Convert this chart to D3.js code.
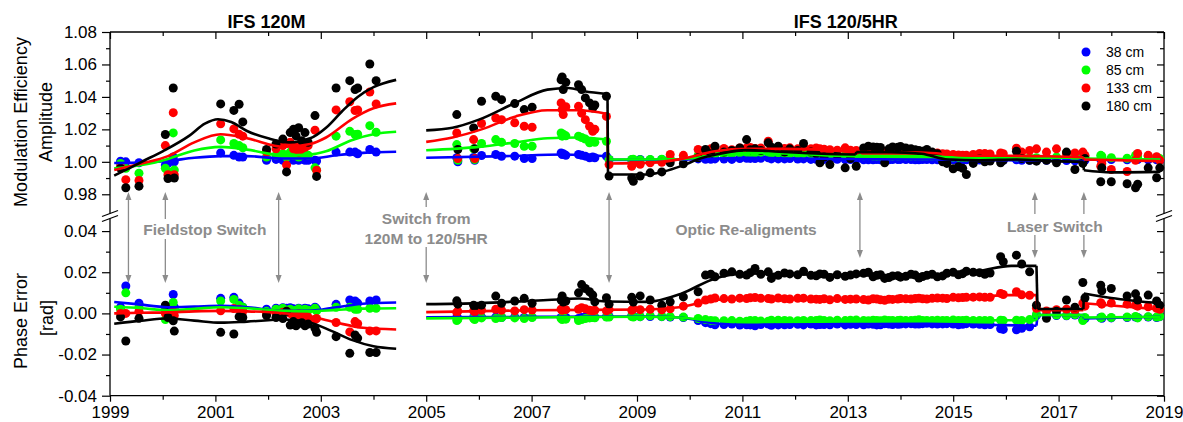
<!DOCTYPE html>
<html>
<head>
<meta charset="utf-8">
<script src="https://cdn.jsdelivr.net/npm/d3@7"></script>
<style>
  body { margin: 0; background: #fff; }
  svg text { font-family: "Liberation Sans", Arial, sans-serif; }
</style>
</head>
<body>
<svg id="chart" width="1183" height="422"></svg>
<script>
// ---- data ----
const seriesNames = ['38 cm', '85 cm', '133 cm', '180 cm']
const seriesColors = ['#0000ff', '#00ff00', '#ff0000', '#000000']

// measurement epochs (decimal year): IFS 120M, IFS 120/5HR, extra 120/5HR epochs
const dates = [
  1999.20, 1999.30, 1999.55, 2000.05, 2000.10, 2000.20, 2000.22, 2001.10, 2001.35, 2001.45,
  2001.52, 2001.97, 2002.15, 2002.28, 2002.35, 2002.42, 2002.48, 2002.53, 2002.58, 2002.64,
  2002.70, 2002.76, 2002.89, 2002.92, 2003.29, 2003.55, 2003.65, 2003.70, 2003.93, 2004.05,

  2005.58, 2005.60, 2005.90, 2005.92, 2006.05, 2006.32, 2006.43, 2006.68, 2006.86, 2007.01,
  2007.56, 2007.58, 2007.60, 2007.65, 2007.89, 2007.95, 2008.02, 2008.10, 2008.16, 2008.20,
  2008.42, 2008.47, 2008.90, 2008.93, 2009.06, 2009.25, 2009.47, 2009.63, 2009.88, 2010.16,
  2010.30, 2010.48, 2010.80, 2011.08, 2011.24, 2011.49, 2011.55, 2011.68, 2011.90, 2012.16,
  2012.30, 2012.47, 2012.66, 2012.80, 2012.95, 2013.16, 2013.39, 2013.55, 2013.70, 2013.85,
  2014.00, 2014.20, 2014.35, 2014.50, 2014.70, 2014.88, 2015.00, 2015.10, 2015.25, 2015.50,
  2015.60, 2015.90, 2015.95, 2016.20, 2016.30, 2016.45, 2016.58, 2016.77, 2016.96, 2017.15,
  2017.31, 2017.46, 2017.50, 2017.80, 2017.82, 2018.00, 2018.30, 2018.46, 2018.50, 2018.70,
  2018.86, 2018.92,

  2010.40, 2010.65, 2010.95, 2011.15, 2011.35, 2011.80, 2012.05, 2012.40, 2012.55, 2013.05,
  2013.30, 2013.48, 2013.62, 2013.78, 2013.95, 2014.10, 2014.28, 2014.42, 2014.60, 2014.80,
  2015.18, 2015.38, 2015.70
]

// modulation efficiency amplitude
const amp38 = [
  1.0004, 1.0000, 0.9994, 0.9980, 0.9990, 1.0030, 1.0000, 1.0055, 1.0040, 1.0030,
  1.0030, 1.0010, 1.0015, 1.0010, 1.0000, 1.0020, 1.0010, 1.0020, 1.0010, 1.0020,
  1.0010, 1.0010, 1.0010, 1.0005, 1.0060, 1.0060, 1.0060, 1.0050, 1.0076, 1.0060,

  1.0025, 1.0000, 1.0027, 1.0010, 1.0039, 1.0045, 1.0034, 1.0035, 1.0020, 1.0020,
  1.0055, 1.0045, 1.0050, 1.0040, 1.0045, 1.0040, 1.0035, 1.0025, 1.0030, 1.0025,
  1.0035, 1.0014, 1.0012, 1.0010, 1.0014, 1.0012, 1.0014, 1.0014, 1.0016, 1.0018,
  1.0016, 1.0018, 1.0015, 1.0022, 1.0020, 1.0025, 1.0018, 1.0018, 1.0020, 1.0018,
  1.0015, 1.0016, 1.0014, 1.0016, 1.0014, 1.0014, 1.0012, 1.0014, 1.0012, 1.0014,
  1.0015, 1.0014, 1.0013, 1.0014, 1.0012, 1.0012, 1.0012, 1.0010, 1.0012, 1.0011,
  1.0010, 1.0012, 1.0010, 1.0012, 1.0010, 1.0009, 1.0008, 1.0009, 1.0010, 1.0008,
  1.0006, 1.0008, 1.0010, 1.0015, 1.0012, 1.0014, 1.0012, 1.0016, 1.0014, 1.0013,
  1.0012, 1.0010,

  1.0016, 1.0017, 1.0020, 1.0021, 1.0022, 1.0018, 1.0017, 1.0016, 1.0015, 1.0014,
  1.0013, 1.0013, 1.0012, 1.0013, 1.0014, 1.0014, 1.0013, 1.0014, 1.0013, 1.0012,
  1.0011, 1.0011, 1.0010
]
const amp85 = [
  0.9990, 0.9960, 0.9930, 0.9960, 0.9940, 1.0178, 0.9950, 1.0135, 1.0113, 1.0100,
  1.0087, 1.0030, 1.0040, 1.0050, 1.0030, 1.0060, 1.0040, 1.0050, 1.0030, 1.0040,
  1.0050, 1.0040, 0.9963, 0.9950, 1.0158, 1.0188, 1.0168, 1.0170, 1.0223, 1.0182,

  1.0106, 1.0010, 1.0080, 1.0014, 1.0113, 1.0137, 1.0120, 1.0113, 1.0096, 1.0096,
  1.0178, 1.0158, 1.0170, 1.0160, 1.0158, 1.0150, 1.0140, 1.0117, 1.0125, 1.0120,
  1.0127, 1.0014, 1.0014, 1.0016, 1.0012, 1.0014, 1.0016, 1.0018, 1.0020, 1.0040,
  1.0045, 1.0048, 1.0050, 1.0058, 1.0055, 1.0060, 1.0052, 1.0055, 1.0050, 1.0052,
  1.0050, 1.0048, 1.0045, 1.0042, 1.0040, 1.0038, 1.0038, 1.0035, 1.0036, 1.0035,
  1.0037, 1.0035, 1.0036, 1.0034, 1.0032, 1.0030, 1.0030, 1.0028, 1.0028, 1.0026,
  1.0026, 1.0027, 1.0025, 1.0026, 1.0024, 1.0026, 1.0025, 1.0028, 1.0030, 1.0050,
  1.0028, 1.0050, 1.0030, 1.0040, 1.0035, 1.0025, 1.0022, 1.0040, 1.0030, 1.0035,
  1.0028, 1.0020,

  1.0046, 1.0050, 1.0055, 1.0056, 1.0058, 1.0053, 1.0050, 1.0048, 1.0045, 1.0040,
  1.0037, 1.0036, 1.0035, 1.0036, 1.0036, 1.0036, 1.0035, 1.0034, 1.0033, 1.0031,
  1.0028, 1.0027, 1.0026
]
const amp133 = [
  0.9970, 0.9890, 0.9885, 1.0100, 0.9920, 1.0303, 0.9920, 1.0234, 1.0203, 1.0170,
  1.0158, 1.0060, 1.0080, 1.0100, 0.9980, 1.0120, 1.0080, 1.0100, 1.0060, 1.0080,
  1.0090, 1.0100, 1.0195, 0.9948, 1.0320, 1.0370, 1.0316, 1.0320, 1.0430, 1.0357,

  1.0178, 1.0020, 1.0137, 1.0020, 1.0236, 1.0270, 1.0260, 1.0240, 1.0219, 1.0213,
  1.0363, 1.0322, 1.0291, 1.0340, 1.0342, 1.0300, 1.0260, 1.0219, 1.0188, 1.0200,
  1.0280, 0.9983, 0.9973, 0.9990, 0.9985, 0.9994, 0.9997, 1.0045, 1.0040, 1.0076,
  1.0070, 1.0086, 1.0075, 1.0085, 1.0082, 1.0127, 1.0078, 1.0080, 1.0086, 1.0092,
  1.0080, 1.0080, 1.0075, 1.0072, 1.0086, 1.0070, 1.0065, 1.0068, 1.0062, 1.0066,
  1.0060, 1.0062, 1.0060, 1.0062, 1.0055, 1.0048, 1.0045, 1.0042, 1.0040, 1.0051,
  1.0051, 1.0055, 1.0050, 1.0084, 1.0060, 1.0070, 1.0080, 1.0060, 1.0080, 1.0050,
  1.0055, 1.0060, 1.0040, 0.9973, 0.9990, 0.9953, 0.9940, 1.0010, 1.0051, 1.0040,
  1.0031, 1.0010,

  1.0080, 1.0082, 1.0085, 1.0088, 1.0085, 1.0082, 1.0080, 1.0085, 1.0078, 1.0072,
  1.0068, 1.0066, 1.0064, 1.0065, 1.0062, 1.0061, 1.0060, 1.0061, 1.0058, 1.0050,
  1.0041, 1.0045, 1.0048
]
const amp180 = [
  0.9960, 0.9840, 0.9850, 1.0168, 0.9897, 1.0455, 0.9900, 1.0357, 1.0317, 1.0355,
  1.0246, 1.0076, 1.0110, 1.0140, 0.9938, 1.0180, 1.0200, 1.0160, 1.0210, 1.0130,
  1.0180, 1.0120, 1.0285, 0.9910, 1.0455, 1.0500, 1.0445, 1.0455, 1.0603, 1.0500,

  1.0291, 1.0076, 1.0209, 1.0080, 1.0373, 1.0404, 1.0383, 1.0359, 1.0322, 1.0336,
  1.0506, 1.0523, 1.0445, 1.0490, 1.0475, 1.0445, 1.0394, 1.0363, 1.0332, 1.0350,
  1.0404, 0.9912, 0.9900, 0.9880, 0.9912, 0.9932, 0.9938, 0.9994, 0.9988, 1.0025,
  1.0076, 1.0096, 1.0070, 1.0137, 1.0080, 1.0117, 1.0090, 1.0096, 1.0080, 1.0113,
  1.0060, 0.9994, 0.9983, 1.0040, 0.9963, 0.9973, 1.0096, 1.0090, 0.9994, 1.0092,
  1.0095, 1.0080, 1.0070, 1.0076, 1.0050, 0.9990, 0.9957, 0.9970, 0.9922, 1.0020,
  1.0000, 0.9994, 1.0010, 1.0065, 1.0020, 1.0010, 1.0004, 1.0010, 0.9994, 1.0060,
  0.9953, 0.9990, 1.0020, 0.9877, 0.9963, 0.9877, 0.9865, 0.9840, 0.9862, 0.9963,
  0.9902, 0.9963,

  1.0050, 1.0060, 1.0085, 1.0075, 1.0070, 1.0060, 1.0070, 1.0050, 1.0030, 1.0020,
  1.0085, 1.0092, 1.0088, 1.0080, 1.0090, 1.0085, 1.0075, 1.0065, 1.0060, 1.0000,
  0.9960, 0.9990, 1.0005
]

// phase error [rad]
const pha38 = [
  0.0030, 0.0133, 0.0049, 0.0020, 0.0010, 0.0092, 0.0030, 0.0073, 0.0078, 0.0050,
  0.0030, 0.0020, 0.0025, 0.0028, 0.0025, 0.0028, 0.0022, 0.0018, 0.0025, 0.0020,
  0.0025, 0.0022, 0.0030, 0.0022, 0.0044, 0.0065, 0.0060, 0.0050, 0.0060, 0.0065,

  -0.0020, -0.0025, -0.0020, -0.0022, -0.0018, -0.0018, -0.0020, -0.0017, -0.0020, -0.0018,
  -0.0020, -0.0022, -0.0018, -0.0020, -0.0025, -0.0020, -0.0018, -0.0020, -0.0017, -0.0019,
  -0.0016, -0.0015, -0.0012, -0.0014, -0.0016, -0.0015, -0.0016, -0.0018, -0.0020, -0.0035,
  -0.0045, -0.0055, -0.0052, -0.0055, -0.0060, -0.0052, -0.0058, -0.0056, -0.0054, -0.0056,
  -0.0052, -0.0054, -0.0055, -0.0052, -0.0056, -0.0054, -0.0052, -0.0056, -0.0050, -0.0054,
  -0.0052, -0.0050, -0.0052, -0.0048, -0.0052, -0.0050, -0.0052, -0.0055, -0.0050, -0.0053,
  -0.0055, -0.0075, -0.0078, -0.0080, -0.0072, -0.0065, -0.0010, -0.0012, -0.0010, -0.0012,
  -0.0008, -0.0030, -0.0025, -0.0020, -0.0024, -0.0022, -0.0020, -0.0018, -0.0020, -0.0018,
  -0.0020, -0.0016,

  -0.0050, -0.0054, -0.0057, -0.0056, -0.0054, -0.0055, -0.0053, -0.0056, -0.0054, -0.0053,
  -0.0055, -0.0053, -0.0055, -0.0052, -0.0053, -0.0051, -0.0052, -0.0050, -0.0051, -0.0051,
  -0.0053, -0.0052, -0.0054
]
const pha85 = [
  0.0020, 0.0100, 0.0030, -0.0030, 0.0000, 0.0053, 0.0020, 0.0060, 0.0068, 0.0040,
  0.0030, 0.0010, 0.0020, 0.0025, 0.0015, 0.0020, 0.0012, 0.0015, 0.0022, 0.0012,
  0.0020, 0.0015, 0.0025, 0.0012, 0.0030, 0.0030, 0.0020, 0.0020, 0.0025, 0.0025,

  -0.0035, -0.0030, -0.0025, -0.0030, -0.0022, -0.0025, -0.0020, -0.0022, -0.0025, -0.0020,
  -0.0025, -0.0030, -0.0020, -0.0028, -0.0035, -0.0030, -0.0025, -0.0022, -0.0020, -0.0021,
  -0.0018, -0.0018, -0.0015, -0.0018, -0.0016, -0.0012, -0.0015, -0.0016, -0.0018, -0.0025,
  -0.0030, -0.0036, -0.0035, -0.0038, -0.0035, -0.0038, -0.0033, -0.0033, -0.0036, -0.0034,
  -0.0035, -0.0032, -0.0036, -0.0033, -0.0035, -0.0032, -0.0036, -0.0034, -0.0032, -0.0035,
  -0.0033, -0.0035, -0.0031, -0.0034, -0.0033, -0.0035, -0.0032, -0.0034, -0.0033, -0.0035,
  -0.0034, -0.0033, -0.0035, -0.0033, -0.0034, -0.0030, -0.0005, -0.0008, -0.0008, -0.0010,
  -0.0006, -0.0035, -0.0020, -0.0022, -0.0018, -0.0020, -0.0018, -0.0015, -0.0022, -0.0016,
  -0.0018, -0.0015,

  -0.0034, -0.0036, -0.0038, -0.0035, -0.0037, -0.0034, -0.0036, -0.0034, -0.0035, -0.0033,
  -0.0035, -0.0033, -0.0036, -0.0034, -0.0035, -0.0034, -0.0033, -0.0035, -0.0034, -0.0034,
  -0.0034, -0.0034, -0.0034
]
const pha133 = [
  0.0000, 0.0000, 0.0010, 0.0000, -0.0010, 0.0010, -0.0010, 0.0013, 0.0024, 0.0020,
  0.0010, -0.0005, 0.0000, 0.0005, 0.0010, 0.0000, -0.0010, -0.0008, -0.0002, -0.0012,
  -0.0010, -0.0018, -0.0030, -0.0025, -0.0044, -0.0090, -0.0040, -0.0050, -0.0085, -0.0085,

  0.0005, 0.0010, 0.0012, 0.0008, 0.0015, 0.0020, 0.0015, 0.0012, 0.0018, 0.0016,
  0.0020, 0.0015, 0.0022, 0.0018, 0.0020, 0.0028, 0.0022, 0.0015, 0.0012, 0.0015,
  0.0012, 0.0018, 0.0015, 0.0022, 0.0018, 0.0020, 0.0017, 0.0022, 0.0035, 0.0050,
  0.0065, 0.0075, 0.0070, 0.0072, 0.0077, 0.0072, 0.0070, 0.0075, 0.0070, 0.0074,
  0.0070, 0.0068, 0.0066, 0.0072, 0.0068, 0.0070, 0.0065, 0.0070, 0.0064, 0.0068,
  0.0072, 0.0070, 0.0074, 0.0070, 0.0075, 0.0072, 0.0078, 0.0076, 0.0078, 0.0080,
  0.0078, 0.0097, 0.0092, 0.0105, 0.0090, 0.0088, 0.0025, 0.0012, 0.0018, 0.0020,
  0.0015, 0.0050, 0.0035, 0.0052, 0.0045, 0.0050, 0.0045, 0.0040, 0.0035, 0.0032,
  0.0025, 0.0020,

  0.0070, 0.0072, 0.0074, 0.0076, 0.0073, 0.0071, 0.0073, 0.0069, 0.0071, 0.0069,
  0.0067, 0.0071, 0.0066, 0.0069, 0.0070, 0.0071, 0.0072, 0.0071, 0.0073, 0.0074,
  0.0077, 0.0079, 0.0078
]
const pha180 = [
  -0.0017, -0.0134, -0.0024, 0.0040, -0.0020, -0.0036, -0.0086, -0.0092, -0.0100, -0.0016,
  -0.0020, -0.0010, -0.0020, -0.0025, 0.0010, -0.0057, -0.0040, -0.0060, -0.0050, -0.0045,
  -0.0060, -0.0052, -0.0072, -0.0092, -0.0113, -0.0194, -0.0105, -0.0120, -0.0190, -0.0190,

  0.0061, 0.0045, 0.0040, 0.0033, 0.0040, 0.0084, 0.0049, 0.0060, 0.0073, 0.0049,
  0.0065, 0.0085, 0.0055, 0.0060, 0.0100, 0.0140, 0.0121, 0.0105, 0.0089, 0.0056,
  0.0076, 0.0045, 0.0078, 0.0055, 0.0085, 0.0065, 0.0040, 0.0056, 0.0080, 0.0105,
  0.0186, 0.0178, 0.0202, 0.0186, 0.0218, 0.0202, 0.0170, 0.0185, 0.0192, 0.0205,
  0.0185, 0.0192, 0.0175, 0.0188, 0.0180, 0.0192, 0.0200, 0.0185, 0.0170, 0.0182,
  0.0176, 0.0190, 0.0172, 0.0185, 0.0178, 0.0195, 0.0200, 0.0188, 0.0205, 0.0198,
  0.0190, 0.0275, 0.0251, 0.0283, 0.0240, 0.0202, 0.0040, -0.0024, 0.0010, 0.0065,
  0.0030, 0.0150, 0.0075, 0.0137, 0.0110, 0.0121, 0.0085, 0.0095, 0.0065, 0.0089,
  0.0060, 0.0040,

  0.0190, 0.0195, 0.0190, 0.0198, 0.0190, 0.0196, 0.0188, 0.0183, 0.0190, 0.0186,
  0.0195, 0.0178, 0.0188, 0.0174, 0.0183, 0.0180, 0.0186, 0.0179, 0.0190, 0.0182,
  0.0193, 0.0200, 0.0196
]

// fitted trend lines: list of segments of [year, value]
const fitAmp38 = [
  [[1999.08, 0.9993], [1999.6, 0.9995], [2000.1, 1.0005], [2000.6, 1.0025], [2001.1, 1.0035], [2001.6, 1.0035],
   [2002.3, 1.0020], [2002.8, 1.0020], [2003.3, 1.0040], [2003.8, 1.0055], [2004.43, 1.0062]],
  [[2005.0, 1.0025], [2006.5, 1.0035], [2007.6, 1.0045], [2008.44, 1.0034]],
  [[2008.45, 1.0012], [2010.0, 1.0014], [2011.1, 1.0025], [2012.0, 1.0020], [2014.5, 1.0014], [2016.0, 1.0010], [2017.47, 1.0004]],
  [[2017.48, 1.0014], [2018.93, 1.0012]]
]
const fitAmp85 = [
  [[1999.08, 0.9960], [1999.6, 0.9980], [2000.1, 1.0018], [2000.6, 1.0070], [2001.1, 1.0092], [2001.6, 1.0075],
   [2002.3, 1.0040], [2002.8, 1.0045], [2003.1, 1.0065], [2003.6, 1.0135], [2004.0, 1.0170], [2004.43, 1.0185]],
  [[2005.0, 1.0071], [2006.0, 1.0092], [2006.7, 1.0120], [2007.3, 1.0145], [2007.9, 1.0150], [2008.44, 1.0137]],
  [[2008.45, 1.0014], [2009.8, 1.0016], [2010.5, 1.0040], [2011.1, 1.0055], [2011.8, 1.0052], [2013.1, 1.0035],
   [2014.5, 1.0035], [2015.2, 1.0025], [2017.47, 1.0025]],
  [[2017.48, 1.0020], [2018.93, 1.0014]]
]
const fitAmp133 = [
  [[1999.08, 0.9950], [1999.6, 0.9990], [2000.1, 1.0035], [2000.6, 1.0120], [2001.1, 1.0170], [2001.6, 1.0145],
   [2002.3, 1.0092], [2002.8, 1.0110], [2003.1, 1.0150], [2003.6, 1.0265], [2004.0, 1.0330], [2004.43, 1.0360]],
  [[2005.0, 1.0123], [2005.5, 1.0150], [2006.05, 1.0200], [2006.7, 1.0280], [2007.3, 1.0318], [2007.9, 1.0318], [2008.44, 1.0295]],
  [[2008.45, 0.9990], [2009.3, 0.9995], [2009.85, 1.0018], [2010.48, 1.0065], [2011.1, 1.0080], [2011.8, 1.0080],
   [2012.5, 1.0075], [2013.1, 1.0060], [2014.4, 1.0057], [2015.2, 1.0040], [2016.8, 1.0034], [2017.47, 1.0028]],
  [[2017.48, 1.0014], [2018.93, 1.0004]]
]
const fitAmp180 = [
  [[1999.08, 0.9915], [1999.3, 0.9950], [1999.6, 1.0000], [2000.0, 1.0065], [2000.5, 1.0160], [2000.8, 1.0235],
   [2001.05, 1.0262], [2001.3, 1.0245], [2001.6, 1.0190], [2002.0, 1.0145], [2002.4, 1.0120], [2002.8, 1.0145],
   [2003.1, 1.0210], [2003.4, 1.0310], [2003.7, 1.0400], [2004.0, 1.0460], [2004.43, 1.0505]],
  [[2005.0, 1.0194], [2005.5, 1.0210], [2006.0, 1.0260], [2006.7, 1.0365], [2007.3, 1.0445], [2007.7, 1.0455],
   [2008.0, 1.0435], [2008.44, 1.0418]],
  [[2008.45, 0.9922], [2009.2, 0.9922], [2009.5, 0.9940], [2009.85, 0.9975], [2010.2, 1.0020], [2010.5, 1.0045],
   [2011.1, 1.0072], [2011.7, 1.0062], [2012.5, 1.0050], [2013.15, 1.0045]],
  [[2013.16, 1.0060], [2013.8, 1.0060], [2014.4, 1.0050], [2014.9, 1.0014], [2015.5, 1.0010], [2016.2, 1.0014],
   [2016.9, 1.0004], [2017.47, 1.0000]],
  [[2017.48, 0.9948], [2018.0, 0.9935], [2018.93, 0.9938]]
]

const fitPha38 = [
  [[1999.08, 0.0055], [1999.5, 0.0045], [2000.1, 0.0030], [2000.6, 0.0033], [2001.1, 0.0037], [2001.6, 0.0030],
   [2002.3, 0.0012], [2002.8, 0.0013], [2003.3, 0.0030], [2003.8, 0.0047], [2004.43, 0.0053]],
  [[2005.0, -0.0019], [2007.0, -0.0017], [2009.2, -0.0015], [2009.8, -0.0020], [2010.5, -0.0049], [2011.1, -0.0055],
   [2013.0, -0.0052], [2014.5, -0.0050], [2015.5, -0.0055], [2016.58, -0.0060]],
  [[2016.6, -0.0008], [2017.47, -0.0008]],
  [[2017.48, -0.0024], [2018.93, -0.0016]]
]
const fitPha85 = [
  [[1999.08, 0.0032], [1999.6, 0.0025], [2000.1, 0.0015], [2000.6, 0.0022], [2001.1, 0.0030], [2001.6, 0.0025],
   [2002.3, 0.0012], [2002.8, 0.0010], [2003.3, 0.0017], [2003.8, 0.0023], [2004.43, 0.0025]],
  [[2005.0, -0.0024], [2007.0, -0.0020], [2009.2, -0.0016], [2009.8, -0.0020], [2010.5, -0.0036], [2011.1, -0.0037],
   [2013.0, -0.0034], [2015.0, -0.0034], [2016.58, -0.0033]],
  [[2016.6, -0.0008], [2017.47, -0.0008]],
  [[2017.48, -0.0020], [2018.93, -0.0016]]
]
const fitPha133 = [
  [[1999.08, 0.0000], [1999.6, 0.0003], [2000.1, 0.0005], [2000.6, 0.0010], [2001.1, 0.0012], [2001.6, 0.0010],
   [2002.3, 0.0000], [2002.8, -0.0015], [2003.3, -0.0045], [2003.8, -0.0070], [2004.43, -0.0078]],
  [[2005.0, 0.0006], [2007.0, 0.0015], [2009.2, 0.0019], [2009.8, 0.0030], [2010.48, 0.0065], [2011.1, 0.0073],
   [2013.0, 0.0068], [2014.5, 0.0073], [2015.5, 0.0079], [2016.0, 0.0089], [2016.58, 0.0089]],
  [[2016.6, 0.0016], [2017.47, 0.0016]],
  [[2017.48, 0.0049], [2018.93, 0.0019]]
]
const fitPha180 = [
  [[1999.08, -0.0050], [1999.6, -0.0035], [2000.1, -0.0025], [2000.6, -0.0035], [2001.1, -0.0045], [2001.6, -0.0040],
   [2002.3, -0.0030], [2002.8, -0.0045], [2003.2, -0.0085], [2003.6, -0.0130], [2004.0, -0.0160], [2004.43, -0.0172]],
  [[2005.0, 0.0045], [2006.0, 0.0050], [2007.3, 0.0065], [2007.9, 0.0072], [2008.4, 0.0058], [2009.2, 0.0056],
   [2009.85, 0.0097], [2010.48, 0.0170], [2011.1, 0.0194], [2012.0, 0.0190], [2013.5, 0.0186], [2014.5, 0.0187],
   [2015.5, 0.0207], [2016.1, 0.0231], [2016.58, 0.0231]],
  [[2016.6, 0.0021], [2017.47, 0.0021]],
  [[2017.48, 0.0097], [2018.0, 0.0075], [2018.93, 0.0049]]
]

const ampTicks = [0.98, 1.00, 1.02, 1.04, 1.06, 1.08]
const ampMinor = [0.99, 1.01, 1.03, 1.05, 1.07]
const phaTicks = [-0.04, -0.02, 0.00, 0.02, 0.04]
const phaMinor = [-0.03, -0.01, 0.01, 0.03]
const yearTicks = [1999, 2001, 2003, 2005, 2007, 2009, 2011, 2013, 2015, 2017, 2019]
const yearMinor = [2000, 2002, 2004, 2006, 2008, 2010, 2012, 2014, 2016, 2018]

const periods = [{ label: 'IFS 120M', center: 2001.97 }, { label: 'IFS 120/5HR', center: 2012.96 }]
const eventYears = [1999.35, 2000.05, 2002.2, 2005.0, 2008.47, 2013.23, 2016.55, 2017.48]
const eventLabels = [
  { lines: ['Fieldstop Switch'], year: 2000.8, y: 235 },
  { lines: ['Switch from', '120M to 120/5HR'], year: 2005.0, y: 224 },
  { lines: ['Optic Re-aligments'], year: 2011.07, y: 235 },
  { lines: ['Laser Switch'], year: 2016.93, y: 232 }
]

// ---- drawing ----
const svg = d3.select('#chart')
const plot = { left: 110, right: 1164, top: 32, bottom: 395.7, breakY: 210.5 }

const x = d3.scaleLinear().domain([1999, 2019]).range([plot.left, plot.right])
const yAmp = d3.scaleLinear().domain([0.97, 1.08]).range([plot.breakY, plot.top])
const yPha = d3.scaleLinear().domain([-0.04, 0.05]).range([plot.bottom, plot.breakY])

const ampSeries = [amp38, amp85, amp133, amp180]
const phaSeries = [pha38, pha85, pha133, pha180]
const ampFits = [fitAmp38, fitAmp85, fitAmp133, fitAmp180]
const phaFits = [fitPha38, fitPha85, fitPha133, fitPha180]
const gray = '#8c8c8c'

function styleAxis(g) {
  g.select('.domain').remove()
  g.attr('font-family', null).attr('font-size', 17)
  g.selectAll('line').attr('stroke', '#000').attr('stroke-width', 1.2)
  g.selectAll('text').attr('fill', '#000')
}

// left axes (outward ticks with labels)
svg.append('g').attr('transform', `translate(${plot.left},0)`)
  .call(d3.axisLeft(yAmp).tickValues(ampTicks).tickSize(8).tickPadding(5).tickFormat(d => d.toFixed(2)))
  .call(styleAxis)
svg.append('g').attr('transform', `translate(${plot.left},0)`)
  .call(d3.axisLeft(yAmp).tickValues(ampMinor).tickSize(4).tickFormat(''))
  .call(styleAxis)
svg.append('g').attr('transform', `translate(${plot.left},0)`)
  .call(d3.axisLeft(yPha).tickValues(phaTicks).tickSize(8).tickPadding(5).tickFormat(d => d.toFixed(2)))
  .call(styleAxis)
svg.append('g').attr('transform', `translate(${plot.left},0)`)
  .call(d3.axisLeft(yPha).tickValues(phaMinor).tickSize(4).tickFormat(''))
  .call(styleAxis)

// right axes (inward ticks, no labels)
for (const [sc, maj, min] of [[yAmp, ampTicks, ampMinor], [yPha, phaTicks, phaMinor]]) {
  svg.append('g').attr('transform', `translate(${plot.right},0)`)
    .call(d3.axisLeft(sc).tickValues(maj).tickSize(7).tickFormat(''))
    .call(styleAxis)
  svg.append('g').attr('transform', `translate(${plot.right},0)`)
    .call(d3.axisLeft(sc).tickValues(min).tickSize(4).tickFormat(''))
    .call(styleAxis)
}

// bottom axis (outward) and top axis (inward)
svg.append('g').attr('transform', `translate(0,${plot.bottom})`)
  .call(d3.axisBottom(x).tickValues(yearTicks).tickSize(6).tickPadding(4).tickFormat(d3.format('d')))
  .call(styleAxis)
svg.append('g').attr('transform', `translate(0,${plot.bottom})`)
  .call(d3.axisBottom(x).tickValues(yearMinor).tickSize(4).tickFormat(''))
  .call(styleAxis)
svg.append('g').attr('transform', `translate(0,${plot.top})`)
  .call(d3.axisBottom(x).tickValues(yearTicks).tickSize(7).tickFormat(''))
  .call(styleAxis)
svg.append('g').attr('transform', `translate(0,${plot.top})`)
  .call(d3.axisBottom(x).tickValues(yearMinor).tickSize(4).tickFormat(''))
  .call(styleAxis)

// frame with axis break (two slashes across the side axes)
const frame = svg.append('g').attr('stroke', '#000').attr('stroke-width', 1.3).attr('fill', 'none')
frame.append('line').attr('x1', plot.left).attr('x2', plot.right).attr('y1', plot.top).attr('y2', plot.top)
frame.append('line').attr('x1', plot.left).attr('x2', plot.right).attr('y1', plot.bottom).attr('y2', plot.bottom)
for (const ax of [plot.left, plot.right]) {
  frame.append('line').attr('x1', ax).attr('x2', ax).attr('y1', plot.top).attr('y2', plot.breakY + 3)
  frame.append('line').attr('x1', ax).attr('x2', ax).attr('y1', plot.breakY + 8).attr('y2', plot.bottom)
  frame.append('line').attr('x1', ax - 8).attr('x2', ax + 8).attr('y1', plot.breakY + 6).attr('y2', plot.breakY)
  frame.append('line').attr('x1', ax - 8).attr('x2', ax + 8).attr('y1', plot.breakY + 11).attr('y2', plot.breakY + 5)
}

// event arrows
const arrowLayout = [
  { top: 192, bottom: 283, gaps: [] },
  { top: 192, bottom: 283, gaps: [[219, 239]] },
  { top: 192, bottom: 283, gaps: [] },
  { top: 192, bottom: 283, gaps: [[207, 247]] },
  { top: 192, bottom: 283, gaps: [] },
  { top: 192, bottom: 258, gaps: [] },
  { top: 192, bottom: 258, gaps: [[214, 235]] },
  { top: 192, bottom: 258, gaps: [[214, 235]] }
]
const arrows = svg.append('g')
eventYears.forEach((yr, i) => {
  const a = arrowLayout[i], ax = x(yr)
  let y0 = a.top + 6
  for (const [g0, g1] of a.gaps) {
    arrows.append('line').attr('x1', ax).attr('x2', ax).attr('y1', y0).attr('y2', g0)
      .attr('stroke', gray).attr('stroke-width', 1.3)
    y0 = g1
  }
  arrows.append('line').attr('x1', ax).attr('x2', ax).attr('y1', y0).attr('y2', a.bottom - 6)
    .attr('stroke', gray).attr('stroke-width', 1.3)
  arrows.append('path').attr('fill', gray)
    .attr('d', `M${ax},${a.top}L${ax - 3},${a.top + 8}L${ax + 3},${a.top + 8}Z`)
  arrows.append('path').attr('fill', gray)
    .attr('d', `M${ax},${a.bottom}L${ax - 3},${a.bottom - 8}L${ax + 3},${a.bottom - 8}Z`)
})

eventLabels.forEach(l => {
  const t = svg.append('text').attr('x', x(l.year)).attr('y', l.y)
    .attr('text-anchor', 'middle').attr('font-size', 15.5).attr('font-weight', 'bold').attr('fill', gray)
  l.lines.forEach((s, k) => t.append('tspan').attr('x', x(l.year)).attr('dy', k ? 20 : 0).text(s))
})

// data dots
const dots = svg.append('g')
seriesNames.forEach((name, i) => {
  dots.append('g').attr('fill', seriesColors[i])
    .selectAll('circle').data(dates.map((d, j) => [d, ampSeries[i][j]]))
    .join('circle').attr('cx', d => x(d[0])).attr('cy', d => yAmp(d[1])).attr('r', 4.5)
  dots.append('g').attr('fill', seriesColors[i])
    .selectAll('circle').data(dates.map((d, j) => [d, phaSeries[i][j]]))
    .join('circle').attr('cx', d => x(d[0])).attr('cy', d => yPha(d[1])).attr('r', 4.5)
})

// fit lines: smooth segments joined by vertical steps
function drawFit(segs, yScale, color) {
  const line = d3.line().x(d => x(d[0])).y(d => yScale(d[1])).curve(d3.curveMonotoneX)
  const g = svg.append('g').attr('fill', 'none').attr('stroke', color).attr('stroke-width', 2.6)
  segs.forEach((s, k) => {
    g.append('path').attr('d', line(s))
    const next = segs[k + 1]
    if (next && next[0][0] - s[s.length - 1][0] < 0.1) {
      g.append('path').attr('d', d3.line().x(d => x(d[0])).y(d => yScale(d[1]))([s[s.length - 1], next[0]]))
    }
  })
}
seriesNames.forEach((name, i) => {
  drawFit(ampFits[i], yAmp, seriesColors[i])
  drawFit(phaFits[i], yPha, seriesColors[i])
})

// titles
periods.forEach(p => {
  svg.append('text').attr('x', x(p.center)).attr('y', 28).attr('text-anchor', 'middle')
    .attr('font-size', 18).attr('font-weight', 'bold').text(p.label)
})

// y axis titles
const yTitles = [
  { text: 'Modulation Efficiency', x: 21, y: 122 },
  { text: 'Amplitude', x: 46, y: 122 },
  { text: 'Phase Error', x: 21, y: 321 },
  { text: '[rad]', x: 47, y: 318 }
]
yTitles.forEach(t => {
  svg.append('text').attr('transform', `translate(${t.x},${t.y}) rotate(-90)`)
    .attr('text-anchor', 'middle').attr('dominant-baseline', 'central')
    .attr('font-size', 18).text(t.text)
})

// legend
const legend = svg.append('g').attr('transform', 'translate(1086,52)')
seriesNames.forEach((name, i) => {
  legend.append('circle').attr('cx', 0).attr('cy', i * 18).attr('r', 4.5).attr('fill', seriesColors[i])
  legend.append('text').attr('x', 20).attr('y', i * 18 + 5).attr('font-size', 14).text(name)
})
</script>
</body>
</html>
